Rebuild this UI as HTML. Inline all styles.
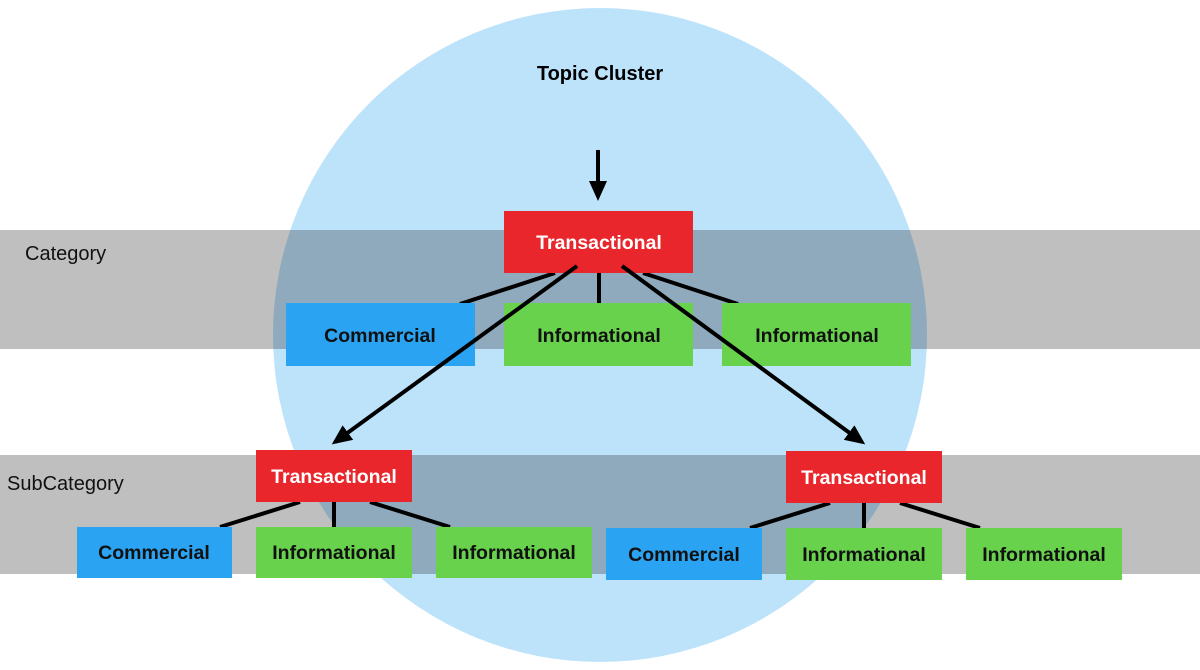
<!DOCTYPE html>
<html><head><meta charset="utf-8"><style>
html,body{margin:0;padding:0;background:#fff;}
svg{display:block;font-family:"Liberation Sans",Arial,sans-serif;}
</style></head><body>
<svg width="1200" height="670" viewBox="0 0 1200 670" xmlns="http://www.w3.org/2000/svg">
<defs>
<marker id="ah2" markerWidth="20" markerHeight="18" refX="16" refY="9" orient="auto" markerUnits="userSpaceOnUse" viewBox="0 0 20 18"><path d="M0,0 L20,9 L0,18 z" fill="#000"/></marker></defs>
<rect width="1200" height="670" fill="#fff"/>
<circle cx="600" cy="335" r="327" fill="#bde3fb"/>
<rect x="0" y="230" width="1200" height="119" fill="rgba(20,20,20,0.27)"/>
<rect x="0" y="455" width="1200" height="119" fill="rgba(20,20,20,0.27)"/>
<text x="600" y="80" font-size="20" font-weight="bold" text-anchor="middle" fill="#000">Topic Cluster</text>
<text x="25" y="260" font-size="20" fill="#111">Category</text>
<text x="7" y="490" font-size="20" fill="#111">SubCategory</text>
<g stroke="#000" stroke-width="4" fill="none">
<line x1="598" y1="150" x2="598" y2="197" marker-end="url(#ah2)"/>
<line x1="555" y1="273" x2="460" y2="304"/>
<line x1="599" y1="273" x2="599" y2="304"/>
<line x1="643" y1="273" x2="738" y2="304"/>
<line x1="300" y1="502" x2="220" y2="527"/>
<line x1="334" y1="502" x2="334" y2="527"/>
<line x1="370" y1="502" x2="450" y2="527"/>
<line x1="830" y1="503" x2="750" y2="528"/>
<line x1="864" y1="503" x2="864" y2="528"/>
<line x1="900" y1="503" x2="980" y2="528"/>
</g>
<g font-size="19.5" font-weight="bold" text-anchor="middle">
<rect x="504" y="211" width="189" height="62" fill="#e8262b"/><text x="599" y="249" fill="#fff">Transactional</text>
<rect x="286" y="303" width="189" height="63" fill="#2ba3f3"/><text x="380" y="342" fill="#111">Commercial</text>
<rect x="504" y="303" width="189" height="63" fill="#68d24d"/><text x="599" y="342" fill="#111">Informational</text>
<rect x="722" y="303" width="189" height="63" fill="#68d24d"/><text x="817" y="342" fill="#111">Informational</text>
<rect x="256" y="450" width="156" height="52" fill="#e8262b"/><text x="334" y="483" fill="#fff">Transactional</text>
<rect x="77" y="527" width="155" height="51" fill="#2ba3f3"/><text x="154" y="559" fill="#111">Commercial</text>
<rect x="256" y="527" width="156" height="51" fill="#68d24d"/><text x="334" y="559" fill="#111">Informational</text>
<rect x="436" y="527" width="156" height="51" fill="#68d24d"/><text x="514" y="559" fill="#111">Informational</text>
<rect x="786" y="451" width="156" height="52" fill="#e8262b"/><text x="864" y="484" fill="#fff">Transactional</text>
<rect x="606" y="528" width="156" height="52" fill="#2ba3f3"/><text x="684" y="561" fill="#111">Commercial</text>
<rect x="786" y="528" width="156" height="52" fill="#68d24d"/><text x="864" y="561" fill="#111">Informational</text>
<rect x="966" y="528" width="156" height="52" fill="#68d24d"/><text x="1044" y="561" fill="#111">Informational</text>
</g>
<g stroke="#000" stroke-width="4" fill="none">
<line x1="577" y1="266" x2="335" y2="442" marker-end="url(#ah2)"/>
<line x1="622" y1="266" x2="862" y2="442" marker-end="url(#ah2)"/>
</g>
</svg>
</body></html>
